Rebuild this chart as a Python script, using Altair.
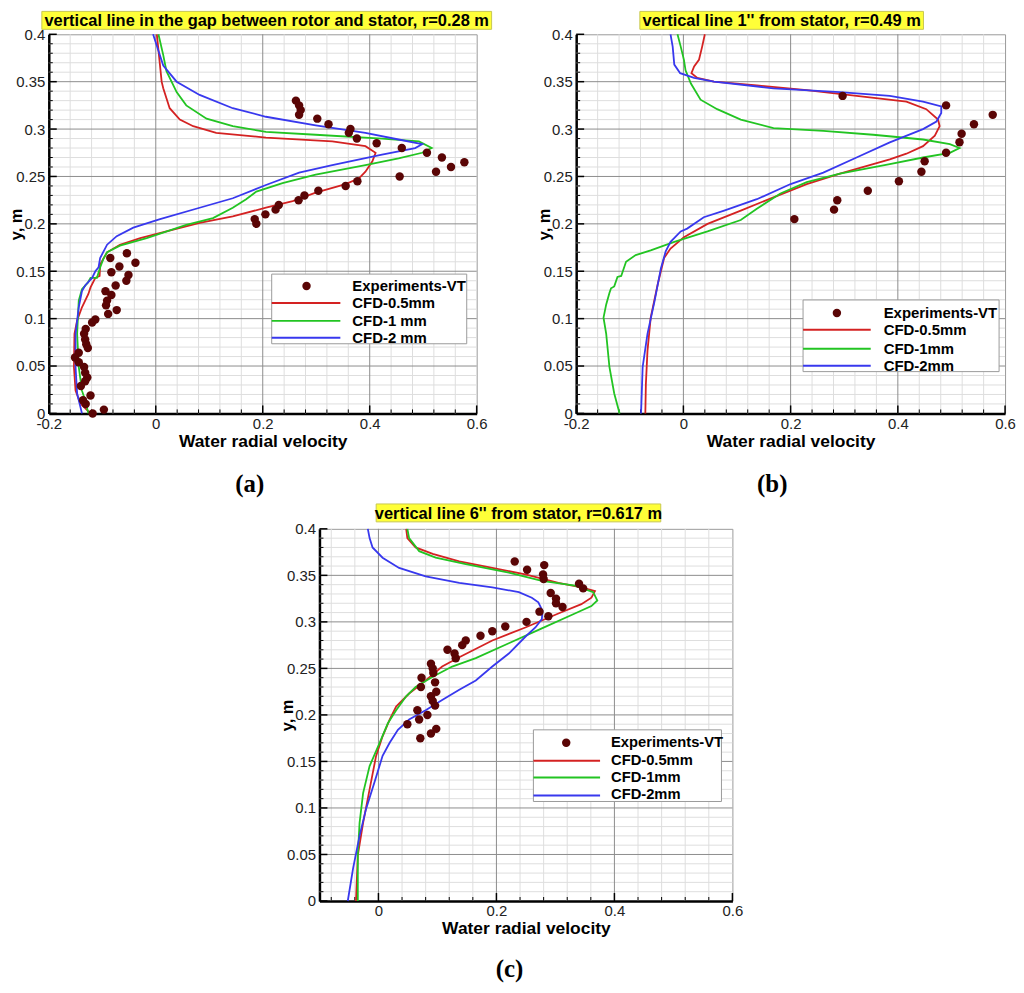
import altair as alt
import pandas as pd

# ---------------- data ----------------
SERIES = ["CFD-0.5mm", "CFD-1mm", "CFD-2mm"]
LINE_COLORS = ["#d42222", "#22c422", "#3838ee"]
EXP_COLOR = "#5a0505"

# Panel (a)
A_EXP_X = [0.262, 0.268, 0.271, 0.268, 0.302, 0.323, 0.364, 0.361, 0.376, 0.413, 0.460, 0.507, 0.535, 0.577,
           0.552, 0.524, 0.456, 0.377, 0.355, 0.304, 0.278, 0.267, 0.230, 0.224, 0.205, 0.185, 0.188,
           -0.054, -0.085, -0.038, -0.068, -0.083, -0.051, -0.055, -0.075, -0.094, -0.083, -0.091, -0.093,
           -0.073, -0.089, -0.113, -0.119, -0.131, -0.134, -0.132, -0.130, -0.127, -0.144, -0.151, -0.144,
           -0.134, -0.132, -0.128, -0.132, -0.140, -0.122, -0.136, -0.131, -0.097, -0.118]
A_EXP_Y = [0.330, 0.325, 0.320, 0.315, 0.311, 0.305, 0.300, 0.296, 0.290, 0.285, 0.280, 0.275, 0.270, 0.265,
           0.260, 0.255, 0.250, 0.245, 0.240, 0.235, 0.230, 0.225, 0.220, 0.215, 0.210, 0.205, 0.200,
           0.169, 0.164, 0.159, 0.155, 0.149, 0.146, 0.140, 0.135, 0.129, 0.125, 0.119, 0.114,
           0.109, 0.105, 0.099, 0.096, 0.089, 0.084, 0.078, 0.073, 0.069, 0.064, 0.059, 0.054,
           0.049, 0.043, 0.038, 0.034, 0.029, 0.019, 0.014, 0.010, 0.004, 0.0]
A_RED_X = [0.002, 0.011, 0.014, 0.026, 0.045, 0.070, 0.113, 0.206, 0.330, 0.392, 0.411, 0.405, 0.392, 0.380,
           0.355, 0.299, 0.256, 0.206, 0.144, 0.082, 0.020, -0.029, -0.067, -0.091, -0.104, -0.105, -0.113,
           -0.122, -0.126, -0.138, -0.147, -0.152, -0.153, -0.150, -0.141, -0.122]
A_RED_Y = [0.400, 0.350, 0.343, 0.322, 0.310, 0.303, 0.296, 0.291, 0.287, 0.282, 0.275, 0.266, 0.255, 0.248,
           0.242, 0.233, 0.224, 0.217, 0.208, 0.201, 0.192, 0.185, 0.178, 0.170, 0.157, 0.145, 0.143,
           0.133, 0.126, 0.112, 0.098, 0.084, 0.049, 0.024, 0.0105, 0.0]
A_GRN_X = [0.005, 0.014, 0.020, 0.039, 0.057, 0.095, 0.144, 0.206, 0.299, 0.423, 0.492, 0.516, 0.498, 0.454,
           0.392, 0.299, 0.237, 0.188, 0.169, 0.144, 0.107, 0.057, -0.017, -0.067, -0.091, -0.098, -0.104,
           -0.110, -0.122, -0.127, -0.138, -0.144, -0.147, -0.144, -0.138, -0.132, -0.126]
A_GRN_Y = [0.400, 0.378, 0.361, 0.339, 0.325, 0.311, 0.303, 0.297, 0.294, 0.290, 0.287, 0.280, 0.275, 0.269,
           0.262, 0.252, 0.243, 0.234, 0.226, 0.217, 0.206, 0.199, 0.185, 0.177, 0.170, 0.163, 0.154,
           0.143, 0.143, 0.138, 0.131, 0.119, 0.084, 0.049, 0.024, 0.014, 0.0]
A_BLU_X = [-0.005, 0.014, 0.039, 0.082, 0.144, 0.206, 0.299, 0.392, 0.454, 0.498, 0.485, 0.423, 0.330, 0.268,
           0.206, 0.144, 0.082, 0.008, -0.042, -0.073, -0.091, -0.104, -0.107, -0.113, -0.119, -0.132,
           -0.138, -0.144, -0.150, -0.150, -0.147, -0.138]
A_BLU_Y = [0.400, 0.367, 0.350, 0.336, 0.322, 0.313, 0.304, 0.296, 0.289, 0.284, 0.280, 0.273, 0.262, 0.254,
           0.241, 0.227, 0.217, 0.205, 0.196, 0.187, 0.178, 0.164, 0.154, 0.150, 0.143, 0.135,
           0.129, 0.112, 0.084, 0.049, 0.021, 0.0]

# Panel (b)
B_EXP_X = [0.297, 0.490, 0.577, 0.542, 0.519, 0.515, 0.490, 0.450, 0.444, 0.402, 0.344, 0.287, 0.281, 0.207]
B_EXP_Y = [0.335, 0.325, 0.315, 0.305, 0.295, 0.286, 0.275, 0.266, 0.255, 0.245, 0.235, 0.225, 0.215, 0.205]
B_RED_X = [0.040, 0.035, 0.029, 0.020, 0.015, 0.026, 0.057, 0.137, 0.230, 0.323, 0.416, 0.453, 0.475, 0.478,
           0.469, 0.447, 0.416, 0.385, 0.354, 0.292, 0.230, 0.168, 0.107, 0.045, 0.001, -0.024, -0.036,
           -0.048, -0.061, -0.067, -0.070, -0.071]
B_RED_Y = [0.400, 0.387, 0.373, 0.366, 0.359, 0.354, 0.350, 0.346, 0.341, 0.335, 0.329, 0.321, 0.310, 0.303,
           0.293, 0.282, 0.274, 0.268, 0.263, 0.253, 0.242, 0.228, 0.214, 0.200, 0.186, 0.174, 0.164,
           0.136, 0.101, 0.066, 0.031, 0.0]
B_GRN_X = [-0.011, -0.005, 0.001, 0.004, 0.014, 0.032, 0.063, 0.107, 0.168, 0.261, 0.354, 0.447, 0.497, 0.515,
           0.497, 0.447, 0.385, 0.292, 0.230, 0.181, 0.137, 0.107, 0.045, -0.017, -0.061, -0.089, -0.107,
           -0.113, -0.116, -0.123, -0.129, -0.135, -0.138, -0.144, -0.149, -0.144, -0.138, -0.129, -0.119]
B_GRN_Y = [0.400, 0.387, 0.373, 0.362, 0.348, 0.331, 0.321, 0.310, 0.301, 0.298, 0.294, 0.289, 0.284, 0.280,
           0.275, 0.270, 0.263, 0.253, 0.244, 0.232, 0.216, 0.204, 0.192, 0.181, 0.172, 0.167, 0.160,
           0.150, 0.145, 0.144, 0.134, 0.132, 0.127, 0.115, 0.101, 0.084, 0.049, 0.021, 0.0]
B_BLU_X = [-0.024, -0.020, -0.017, -0.006, 0.020, 0.057, 0.168, 0.292, 0.385, 0.447, 0.481, 0.481, 0.472,
           0.447, 0.385, 0.323, 0.261, 0.200, 0.137, 0.076, 0.038, 0.007, -0.005, -0.024, -0.033, -0.042,
           -0.054, -0.067, -0.076, -0.079]
B_BLU_Y = [0.400, 0.387, 0.368, 0.359, 0.354, 0.350, 0.343, 0.339, 0.335, 0.329, 0.324, 0.317, 0.308,
           0.300, 0.286, 0.270, 0.254, 0.242, 0.226, 0.214, 0.207, 0.195, 0.192, 0.181, 0.171, 0.153,
           0.118, 0.084, 0.049, 0.0]

# Panel (c)
C_EXP_X = [0.231, 0.281, 0.252, 0.279, 0.280, 0.340, 0.347, 0.292, 0.301, 0.301, 0.312, 0.273, 0.288, 0.251,
           0.215, 0.193, 0.173, 0.148, 0.142, 0.117, 0.129, 0.131, 0.089, 0.092, 0.093, 0.073, 0.096, 0.072,
           0.098, 0.089, 0.092, 0.096, 0.066, 0.083, 0.069, 0.049, 0.098, 0.089, 0.071]
C_EXP_Y = [0.365, 0.361, 0.356, 0.351, 0.346, 0.341, 0.336, 0.331, 0.325, 0.320, 0.316, 0.311, 0.306, 0.300,
           0.295, 0.290, 0.285, 0.280, 0.275, 0.270, 0.266, 0.261, 0.255, 0.250, 0.245, 0.240, 0.235, 0.230,
           0.225, 0.220, 0.215, 0.210, 0.205, 0.200, 0.195, 0.190, 0.185, 0.180, 0.175]
C_RED_X = [0.047, 0.049, 0.063, 0.092, 0.137, 0.193, 0.249, 0.305, 0.344, 0.367, 0.361, 0.344, 0.305, 0.249,
           0.193, 0.137, 0.108, 0.080, 0.052, 0.030, 0.019, 0.007, -0.004, -0.015, -0.026, -0.035, -0.038]
C_RED_Y = [0.400, 0.390, 0.380, 0.373, 0.365, 0.358, 0.351, 0.342, 0.337, 0.333, 0.326, 0.319, 0.309, 0.294,
           0.280, 0.262, 0.252, 0.237, 0.223, 0.209, 0.195, 0.177, 0.156, 0.120, 0.084, 0.049, 0.0]
C_GRN_X = [0.049, 0.052, 0.069, 0.097, 0.148, 0.221, 0.277, 0.333, 0.364, 0.371, 0.361, 0.333, 0.277, 0.221,
           0.165, 0.125, 0.092, 0.063, 0.047, 0.030, 0.016, 0.002, -0.015, -0.026, -0.032, -0.035, -0.035]
C_GRN_Y = [0.400, 0.390, 0.376, 0.369, 0.362, 0.353, 0.344, 0.339, 0.332, 0.323, 0.317, 0.309, 0.293, 0.277,
           0.261, 0.252, 0.241, 0.230, 0.220, 0.205, 0.191, 0.170, 0.145, 0.116, 0.084, 0.049, 0.0]
C_BLU_X = [-0.018, -0.015, -0.010, 0.007, 0.035, 0.080, 0.137, 0.193, 0.238, 0.260, 0.271, 0.278, 0.277,
           0.266, 0.249, 0.221, 0.193, 0.165, 0.137, 0.108, 0.080, 0.052, 0.033, 0.019, 0.007, -0.007,
           -0.021, -0.032, -0.043, -0.052]
C_BLU_Y = [0.400, 0.390, 0.380, 0.369, 0.358, 0.349, 0.342, 0.337, 0.332, 0.326, 0.321, 0.312, 0.303,
           0.294, 0.284, 0.266, 0.252, 0.237, 0.227, 0.216, 0.205, 0.195, 0.184, 0.170, 0.156, 0.127,
           0.099, 0.070, 0.035, 0.0]

# axis ticks / grid
Y_MAJOR = [0, 0.05, 0.1, 0.15, 0.2, 0.25, 0.3, 0.35, 0.4]
Y_MINOR = [round(i * 0.01, 2) for i in range(41) if i % 5 != 0]
X_MAJOR_AB = [-0.2, 0, 0.2, 0.4, 0.6]
X_MINOR_AB = [-0.16, -0.12, -0.08, -0.04, 0.04, 0.08, 0.12, 0.16, 0.24, 0.28, 0.32, 0.36, 0.44, 0.48, 0.52, 0.56]
X_MAJOR_C = [0, 0.2, 0.4, 0.6]
X_MINOR_C = [-0.08, -0.04, 0.04, 0.08, 0.12, 0.16, 0.24, 0.28, 0.32, 0.36, 0.44, 0.48, 0.52, 0.56]

TITLES = ["vertical line in the gap between rotor and stator, r=0.28 m",
          "vertical line 1'' from stator, r=0.49 m",
          "vertical line 6'' from stator, r=0.617 m"]
LEGEND_A = ["Experiments-VT", "CFD-0.5mm", "CFD-1 mm", "CFD-2 mm"]
LEGEND_BC = ["Experiments-VT", "CFD-0.5mm", "CFD-1mm", "CFD-2mm"]
TAGS = ["(a)", "(b)", "(c)"]

FONT = "Liberation Sans"
DUMMY = pd.DataFrame({"k": [0]})


def panel(W, H, xmin, xmajor, xminor, exp_x, exp_y, curves, title, tbox, legend, lg, tag, tagpos, lfs=15):
    xs = alt.Scale(domain=[xmin, 0.6], nice=False, zero=False)
    ys = alt.Scale(domain=[0, 0.4], nice=False, zero=False)
    xax = alt.Axis(
        title="Water radial velocity", values=list(xmajor), labelExpr="datum.value + ''",
        grid=False, ticks=False, domainColor="black", domainWidth=2.5, labelFlush=False,
        labelFont=FONT, labelFontSize=15, labelColor="#222", labelPadding=3,
        titleFont=FONT, titleFontSize=17.5, titleFontWeight="bold", titleColor="black", titlePadding=1)
    yax = alt.Axis(
        title="y, m", values=Y_MAJOR, labelExpr="datum.value + ''",
        grid=False, ticks=False, domainColor="black", domainWidth=2.5, labelFlush=False,
        labelFont=FONT, labelFontSize=15, labelColor="#222", labelPadding=4,
        titleFont=FONT, titleFontSize=16.5, titleFontWeight="bold", titleColor="black",
        titleX=-24, titleY=H / 2, titleAngle=270, titleAlign="center", titleBaseline="bottom")

    def X(f):
        return alt.X(f, scale=xs, axis=xax)

    def Y(f):
        return alt.Y(f, scale=ys, axis=yax)

    layers = []
    # grid
    layers.append(alt.Chart(pd.DataFrame({"v": xminor})).mark_rule(color="#dedede", strokeWidth=1)
                  .encode(x=X("v:Q")))
    layers.append(alt.Chart(pd.DataFrame({"v": Y_MINOR})).mark_rule(color="#dedede", strokeWidth=1)
                  .encode(y=Y("v:Q")))
    layers.append(alt.Chart(pd.DataFrame({"v": [v for v in xmajor if xmin < v < 0.6]}))
                  .mark_rule(color="#8c8c8c", strokeWidth=1).encode(x=X("v:Q")))
    layers.append(alt.Chart(pd.DataFrame({"v": Y_MAJOR[1:-1]})).mark_rule(color="#8c8c8c", strokeWidth=1)
                  .encode(y=Y("v:Q")))
    # inward ticks
    layers.append(alt.Chart(pd.DataFrame({"v": xmajor})).mark_rule(color="black", strokeWidth=1.5)
                  .encode(x=X("v:Q"), y=alt.value(H), y2=alt.value(H - 8)))
    layers.append(alt.Chart(pd.DataFrame({"v": xminor})).mark_rule(color="black", strokeWidth=1)
                  .encode(x=X("v:Q"), y=alt.value(H), y2=alt.value(H - 4)))
    layers.append(alt.Chart(pd.DataFrame({"v": Y_MAJOR})).mark_rule(color="black", strokeWidth=1.5)
                  .encode(y=Y("v:Q"), x=alt.value(0), x2=alt.value(8)))
    layers.append(alt.Chart(pd.DataFrame({"v": Y_MINOR})).mark_rule(color="black", strokeWidth=1)
                  .encode(y=Y("v:Q"), x=alt.value(0), x2=alt.value(4)))
    # curves
    rows = []
    for name, (cx, cy) in zip(SERIES, curves):
        for i, (xv, yv) in enumerate(zip(cx, cy)):
            rows.append({"s": name, "x": xv, "y": yv, "i": i})
    df = pd.DataFrame(rows)
    layers.append(alt.Chart(df).mark_line(strokeWidth=1.8).encode(
        x=X("x:Q"), y=Y("y:Q"),
        color=alt.Color("s:N", scale=alt.Scale(domain=SERIES, range=LINE_COLORS), legend=None),
        order="i:Q",
    ))
    # experiments
    layers.append(alt.Chart(pd.DataFrame({"x": exp_x, "y": exp_y})).mark_circle(
        size=72, color=EXP_COLOR, opacity=1).encode(x=X("x:Q"), y=Y("y:Q")))
    # legend
    bx0, bx1, by0, by1, px, py, lx0, lx1, lys, tx = lg
    layers.append(alt.Chart(DUMMY).mark_rect(fill="white", stroke="#9a9a9a", strokeWidth=1).encode(
        x=alt.value(bx0), x2=alt.value(bx1), y=alt.value(by0), y2=alt.value(by1)))
    layers.append(alt.Chart(DUMMY).mark_circle(size=72, color=EXP_COLOR, opacity=1).encode(
        x=alt.value(px), y=alt.value(py)))
    for c, ly in zip(LINE_COLORS, lys):
        layers.append(alt.Chart(DUMMY).mark_rule(color=c, strokeWidth=2).encode(
            x=alt.value(lx0), x2=alt.value(lx1), y=alt.value(ly)))
    for lab, ty in zip(legend, [py] + list(lys)):
        layers.append(alt.Chart(DUMMY).mark_text(
            text=lab, align="left", baseline="middle", font=FONT, fontSize=lfs, fontWeight="bold",
            color="black").encode(x=alt.value(tx), y=alt.value(ty)))
    # title box
    tx0, tx1, ty0, ty1 = tbox
    layers.append(alt.Chart(DUMMY).mark_rect(fill="#ffff38", stroke="#c8c850", strokeWidth=1).encode(
        x=alt.value(tx0), x2=alt.value(tx1), y=alt.value(ty0), y2=alt.value(ty1)))
    layers.append(alt.Chart(DUMMY).mark_text(
        text=title, align="center", baseline="middle", font=FONT, fontSize=16.5, fontWeight="bold",
        color="black").encode(x=alt.value((tx0 + tx1) / 2), y=alt.value((ty0 + ty1) / 2 + 1)))
    # panel tag
    layers.append(alt.Chart(DUMMY).mark_text(
        text=tag, align="center", baseline="middle", font="Liberation Serif", fontSize=25,
        fontWeight="bold", color="black").encode(x=alt.value(tagpos[0]), y=alt.value(tagpos[1])))
    return alt.layer(*layers).properties(width=W, height=H)


pa = panel(430, 381, -0.2, X_MAJOR_AB, X_MINOR_AB, A_EXP_X, A_EXP_Y,
           [(A_RED_X, A_RED_Y), (A_GRN_X, A_GRN_Y), (A_BLU_X, A_BLU_Y)],
           TITLES[0], (-7, 445, -23, -5), LEGEND_A,
           (224, 420, 241, 311, 259, 253, 224, 293, (270, 288, 305), 305), TAGS[0], (202, 452))
pb = panel(431, 381, -0.2, X_MAJOR_AB, X_MINOR_AB, B_EXP_X, B_EXP_Y,
           [(B_RED_X, B_RED_Y), (B_GRN_X, B_GRN_Y), (B_BLU_X, B_BLU_Y)],
           TITLES[1], (64, 349, -23, -5), LEGEND_BC,
           (228, 425, 267, 339, 262, 280, 228, 296, (297, 316, 333), 309), TAGS[1], (197, 452))
pc = panel(415, 374, -0.1, X_MAJOR_C, X_MINOR_C, C_EXP_X, C_EXP_Y,
           [(C_RED_X, C_RED_Y), (C_GRN_X, C_GRN_Y), (C_BLU_X, C_BLU_Y)],
           TITLES[2], (57, 343, -25, -7), LEGEND_BC,
           (215, 404, 202, 274, 248, 215, 215, 282, (233, 250, 268), 293), TAGS[2], (191, 442), lfs=14.8)

spacer = (alt.Chart(DUMMY).mark_point(opacity=0)
          .encode(x=alt.value(0), y=alt.value(0))
          .properties(width=172, height=10, view=alt.ViewBackground(stroke="transparent")))

row1 = alt.hconcat(pa, pb, spacing=100, bounds="flush")
row2 = alt.hconcat(spacer, pc, spacing=100, bounds="flush")
chart = alt.vconcat(row1, row2, spacing=5).properties(padding=0)
chart = chart.configure_view(stroke="#9a9a9a", strokeWidth=1)

chart.save("out.html", embed_options={"renderer": "svg", "actions": False})
